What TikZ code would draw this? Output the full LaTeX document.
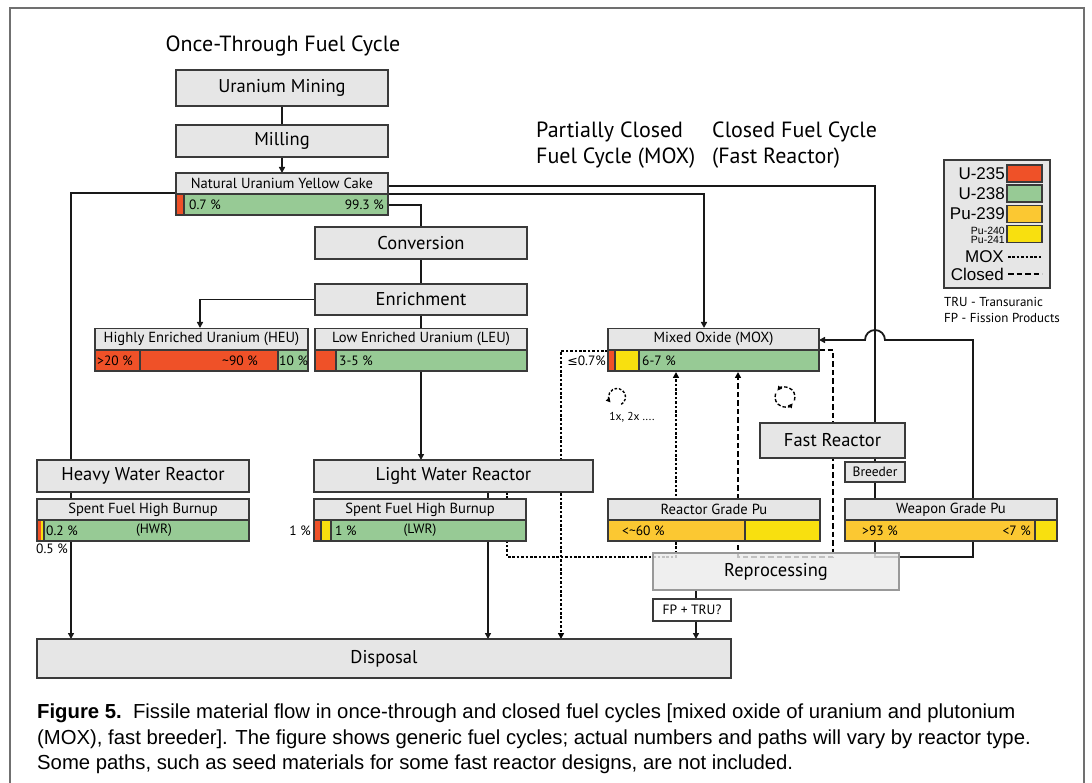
\documentclass[tikz,border=0pt]{standalone}
\usepackage{fontspec}
\setmainfont{PT Sans}
\newfontfamily\capfont{Liberation Sans}
\newfontfamily\legfont{Liberation Sans}
\newfontfamily\symfont{DejaVu Sans}
\usetikzlibrary{arrows.meta,calc}
\definecolor{cred}{HTML}{EF5128}
\definecolor{cgreen}{HTML}{97CA95}
\definecolor{camber}{HTML}{FBC832}
\definecolor{cyellow}{HTML}{F8E00F}
\definecolor{cbox}{HTML}{E6E6E6}
\definecolor{cborder}{HTML}{3A3A3A}
\definecolor{cframe}{HTML}{707070}
\begin{document}
\begin{tikzpicture}[x=1pt,y=-1pt,
  box/.style={draw=cborder, line width=1.2pt, fill=cbox, inner sep=0pt, outer sep=0pt},
  bigbox/.style={box, minimum height=33, font=\fontsize{18.5}{20}\selectfont},
  hdr/.style={box, minimum height=21, font=\fontsize{14.6}{16}\selectfont},
  bar/.style={draw=cborder, line width=1.2pt, fill=cgreen, inner sep=0pt, outer sep=0pt, minimum height=21},
  seg/.style={draw=cborder, line width=1.2pt},
  pct/.style={inner sep=0pt, font=\fontsize{13.5}{15}\selectfont},
  title/.style={inner sep=0pt, font=\fontsize{22}{26}\selectfont, align=left},
  conn/.style={line width=1.8pt, draw=black!90},
  arr/.style={-{Triangle[length=6pt,width=6pt]}},
  moxl/.style={line width=1.5pt, dash pattern=on 2.6pt off 1.8pt},
  closedl/.style={line width=1.5pt, dash pattern=on 5.5pt off 3pt},
  legtxt/.style={inner sep=0pt, font=\legfont\fontsize{17}{19}\selectfont},
  swatch/.style={draw=cborder, line width=1.2pt, inner sep=0pt, minimum width=35, minimum height=17},
  captxt/.style={inner sep=0pt, font=\capfont\fontsize{20.3}{23}\selectfont}
]
\useasboundingbox (0,0) rectangle (1092,783);
\draw[cframe, line width=1.3pt] (10,783) -- (10,8) -- (1084,8) -- (1084,783);

\coordinate (P1) at (507,557);
\coordinate (P2) at (676,557);
\coordinate (Q1) at (833,557);
\coordinate (R1) at (875,557);
\coordinate (R2) at (973,557);
\coordinate (R3) at (973,340);
\coordinate (R4) at (885,340);

% titles
\node[title] (t1) at (283,46) {Once-Through Fuel Cycle};
\node[title, anchor=west] (t2) at (536,145) {Partially Closed\\Fuel Cycle (MOX)};
\node[title, anchor=west] (t3) at (712,145) {Closed Fuel Cycle\\(Fast Reactor)};

% ---------- connectors (drawn below boxes) ----------
\coordinate (nuycW) at (176,193);
\coordinate (nuycE1) at (388,186);
\coordinate (nuycE2) at (388,194);
\coordinate (nuycE3) at (388,205);
\draw[conn] (282,106) -- (282,125);
\draw[conn,arr] (282,157) -- (282,173);
\draw[conn] (nuycW) -| (71,460);
\draw[conn] (71,492) -- (71,499);
\draw[conn,arr] (71,541) -- (71,639);
\draw[conn] (nuycE3) -| (421,227);
\draw[conn] (421,259) -- (421,284);
\draw[conn,arr] (315,299.5) -| (200,328);
\draw[conn] (421,315) -- (421,328);
\draw[conn,arr] (421,371) -- (421,460);
\draw[conn] (488,492) -- (488,500);
\draw[conn,arr] (488,542) -- (488,639);
\draw[conn] (nuycE1) -| (875,423);
\draw[conn,arr] (nuycE2) -| (704,328);
\draw[conn] (875,458) -- (875,462);
\draw[conn] (875,482) -- (875,499);
\draw[conn,arr] (875,541) -- (R1) -- (R2) -- (R3) -- (R4)
   arc[start angle=0, end angle=180, radius=10pt] -- (819,340);
\draw[conn] (696,590) -- (696,599);
\draw[conn,arr] (696,621) -- (696,639);
% MOX (dotted) paths
\draw[moxl,arr] (507,492) -- (P1) -- (P2) -- (676,372);
\draw[moxl,arr] (608,351) -| (561,639);
% closed (dashed) paths
\draw[closedl,arr] (819,350) -| (Q1) -| (738,372);

% cycle symbols
\draw[moxl, line width=1.4pt, -{Triangle[length=4.5pt,width=4.5pt]}] (617,397) ++(-60:8.5pt) arc[start angle=-60, end angle=220, radius=8.5pt];
\draw[closedl, line width=1.4pt, dash pattern=on 3.5pt off 2pt, -{Triangle[length=4.5pt,width=4.5pt]}] (785,397) ++(-20:10pt) arc[start angle=-20, end angle=140, radius=10pt];
\draw[closedl, line width=1.4pt, dash pattern=on 3.5pt off 2pt, -{Triangle[length=4.5pt,width=4.5pt]}] (785,397) ++(160:10pt) arc[start angle=160, end angle=320, radius=10pt];
\node[inner sep=0pt, font=\fontsize{11.5}{13}\selectfont] (rep) at (632,417) {1x, 2x ....};

% ---------- boxes ----------
\node[bigbox, minimum width=212, minimum height=36] (mining) at (282,88) {Uranium Mining};
\node[bigbox, minimum width=212, minimum height=32] (milling) at (282,141) {Milling};
\node[hdr, minimum width=212] (nuych) at (282,183.5) {Natural Uranium Yellow Cake};
\node[bar, minimum width=212] (nuycb) at (282,204.5) {};
\filldraw[seg, fill=cred] (nuycb.north west) rectangle ++(8,21);
\node[pct, anchor=west] (n1) at (189,204.5) {0.7 \%};
\node[pct, anchor=east] (n2) at (384,204.5) {99.3 \%};

\node[bigbox, minimum width=212, minimum height=32] (conv) at (421,243) {Conversion};
\node[bigbox, minimum width=212, minimum height=31] (enr) at (421,299.5) {Enrichment};

\node[hdr, minimum width=213] (heuh) at (201.5,339) {Highly Enriched Uranium (HEU)};
\node[bar, minimum width=213, fill=cred] (heub) at (201.5,360.5) {};
\filldraw[seg, fill=cgreen] (278,350) rectangle (heub.south east);
\draw[seg] (140,350) -- (140,371);
\node[pct, anchor=west] (h1) at (97,360.5) {>20 \%};
\node[pct, anchor=east] (h2) at (258,360.5) {\textasciitilde90 \%};
\node[pct, anchor=west] (h3) at (279,360.5) {10 \%};

\node[hdr, minimum width=212] (leuh) at (421,339) {Low Enriched Uranium (LEU)};
\node[bar, minimum width=212] (leub) at (421,360.5) {};
\filldraw[seg, fill=cred] (leub.north west) rectangle ++(21,21);
\node[pct, anchor=west] (l1) at (339,360.5) {3-5 \%};

\node[bigbox, minimum width=212, minimum height=32] (hwr) at (143,476) {Heavy Water Reactor};
\node[hdr, minimum width=212] (hwsh) at (143,509.5) {Spent Fuel High Burnup};
\node[bar, minimum width=212] (hwsb) at (143,530.5) {};
\filldraw[seg, fill=cyellow] (hwsb.north west) rectangle ++(7,21);
\fill[cred] (37.6,520.6) rectangle (40.5,540.4);
\node[pct, anchor=west] (w1) at (46,530.5) {0.2 \%};
\node[pct] (w2) at (154,530.5) {(HWR)};
\node[pct, anchor=west] (w3) at (36,549) {0.5 \%};

\node[bigbox, minimum width=279, minimum height=32] (lwr) at (453.5,476) {Light Water Reactor};
\node[hdr, minimum width=212] (lwsh) at (420,509.5) {Spent Fuel High Burnup};
\node[bar, minimum width=212] (lwsb) at (420,530.5) {};
\filldraw[seg, fill=cyellow] (lwsb.north west) rectangle ++(17,21);
\filldraw[seg, fill=cred] (lwsb.north west) rectangle ++(7,21);
\node[pct, anchor=east] (v0) at (311,530.5) {1 \%};
\node[pct, anchor=west] (v1) at (335,530.5) {1 \%};
\node[pct] (v2) at (420,530.5) {(LWR)};

\node[hdr, minimum width=211] (moxh) at (713.5,339) {Mixed Oxide (MOX)};
\node[bar, minimum width=211] (moxb) at (713.5,360.5) {};
\filldraw[seg, fill=cyellow] (moxb.north west) rectangle ++(31,21);
\filldraw[seg, fill=cred] (moxb.north west) rectangle ++(7,21);
\node[pct, anchor=west] (m1) at (642,360.5) {6-7 \%};
\node[pct, anchor=east] (m0) at (606,360.5) {{\symfont\fontsize{12.5}{14}\selectfont ≤}0.7\%};

\node[bigbox, minimum width=145, minimum height=35] (fast) at (832.5,440.5) {Fast Reactor};
\node[box, minimum width=60, minimum height=20, font=\fontsize{13.5}{15}\selectfont] (breeder) at (875,472) {Breeder};

\node[hdr, minimum width=212] (rgph) at (714,509.5) {Reactor Grade Pu};
\node[bar, minimum width=212, fill=camber] (rgpb) at (714,530.5) {};
\filldraw[seg, fill=cyellow] (745,520) rectangle (rgpb.south east);
\node[pct, anchor=west] (r1) at (622,530.5) {<\textasciitilde60 \%};

\node[hdr, minimum width=212] (wgph) at (951,509.5) {Weapon Grade Pu};
\node[bar, minimum width=212, fill=camber] (wgpb) at (951,530.5) {};
\filldraw[seg, fill=cyellow] (1035,520) rectangle (wgpb.south east);
\node[pct, anchor=west] (g1) at (862,530.5) {>93 \%};
\node[pct, anchor=east] (g2) at (1031,530.5) {<7 \%};

\node[box, draw=black!40, fill=cbox!75!white, fill opacity=0.82, text opacity=1, minimum width=246, minimum height=37, font=\fontsize{18.5}{20}\selectfont] (repro) at (776,571.5) {Reprocessing};
\node[box, fill=white, minimum width=78, minimum height=22, font=\fontsize{13.5}{15}\selectfont] (fp) at (692,610) {FP + TRU?};

\node[bigbox, minimum width=694, minimum height=39] (disposal) at (384,658.5) {Disposal};

% ---------- legend ----------
\node[box, minimum width=106, minimum height=128] (legend) at (997,224) {};
\node[swatch, fill=cred] (s1) at (1024.5,173.5) {};
\node[swatch, fill=cgreen] (s2) at (1024.5,193.5) {};
\node[swatch, fill=camber] (s3) at (1024.5,214) {};
\node[swatch, fill=cyellow] (s4) at (1024.5,234) {};
\node[legtxt, anchor=east] (lt1) at (1005,173.5) {U-235};
\node[legtxt, anchor=east] (lt2) at (1005,193.5) {U-238};
\node[legtxt, anchor=east] (lt3) at (1005,214) {Pu-239};
\node[legtxt, anchor=east, align=right, font=\legfont\fontsize{10.5}{9}\selectfont] (lt4) at (1005,235) {Pu-240\\Pu-241};
\node[legtxt, anchor=east] (lt5) at (1004,257) {MOX};
\node[legtxt, anchor=east] (lt6) at (1004,274) {Closed};
\draw[moxl, line width=1.3pt] (lt5.east) ++(4,0) -- ++(34,0);
\draw[closedl, line width=1.5pt] (lt6.east) ++(4,0) -- ++(34,0);
\node[inner sep=0pt, anchor=west, align=left, font=\fontsize{13}{16}\selectfont] (abbr) at (944,310) {TRU - Transuranic\\FP - Fission Products};

% ---------- caption ----------
\node[captxt, anchor=base west] (cap1) at (37,718) {\textbf{Figure 5.}\ \ Fissile material flow in once-through and closed fuel cycles [mixed oxide of uranium and plutonium};
\node[captxt, anchor=base west] (cap2) at (37,744) {(MOX), fast breeder]. The figure shows generic fuel cycles; actual numbers and paths will vary by reactor type.};
\node[captxt, anchor=base west] (cap3) at (37,769.5) {Some paths, such as seed materials for some fast reactor designs, are not included.};
\end{tikzpicture}
\end{document}
